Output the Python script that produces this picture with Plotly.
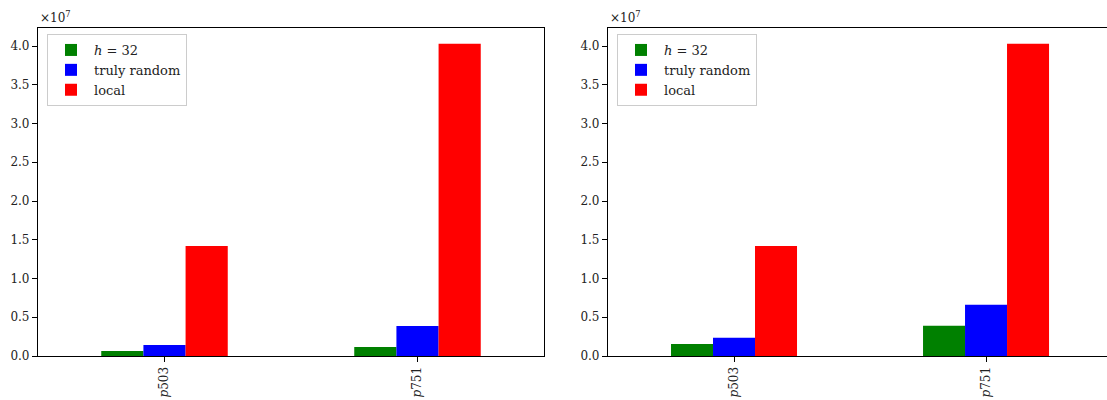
import plotly.graph_objects as go

categories = ["p503", "p751"]
tick_labels = ["<i>p</i>503", "<i>p</i>751"]
series_names = ["<i>h</i> = 32", "truly random", "local"]
colors = ["green", "blue", "red"]

left_h32 = [0.065e7, 0.116e7]
left_random = [0.142e7, 0.388e7]
left_local = [1.42e7, 4.03e7]

right_h32 = [0.155e7, 0.39e7]
right_random = [0.234e7, 0.66e7]
right_local = [1.42e7, 4.03e7]

ytick_vals = [0, 0.5e7, 1.0e7, 1.5e7, 2.0e7, 2.5e7, 3.0e7, 3.5e7, 4.0e7]
ytick_text = ["0.0", "0.5", "1.0", "1.5", "2.0", "2.5", "3.0", "3.5", "4.0"]

W, H = 1107, 400
FONT = "DejaVu Serif, Liberation Serif, serif"

fig = go.Figure()
left_series = [left_h32, left_random, left_local]
right_series = [right_h32, right_random, right_local]
for name, col, vals in zip(series_names, colors, left_series):
    fig.add_trace(go.Bar(x=categories, y=vals, name=name, marker_color=col,
                         marker_line_width=0, xaxis="x", yaxis="y", legend="legend"))
for name, col, vals in zip(series_names, colors, right_series):
    fig.add_trace(go.Bar(x=categories, y=vals, name=name, marker_color=col,
                         marker_line_width=0, xaxis="x2", yaxis="y2", legend="legend2"))

ymax = (356 - 28) / 77.5 * 1e7
tickfont = dict(family=FONT, size=12, color="#222")
common_x = dict(showline=True, linecolor="black", linewidth=1.2, mirror=True,
                ticks="outside", ticklen=5, tickcolor="black",
                tickvals=categories, ticktext=tick_labels, tickangle=-90,
                showgrid=False, zeroline=False, type="category",
                automargin=False, tickfont=tickfont)
common_y = dict(showline=True, linecolor="black", linewidth=1.2,
                ticks="outside", ticklen=5, tickcolor="black",
                tickvals=ytick_vals, ticktext=ytick_text,
                range=[0, ymax], showgrid=False, zeroline=False,
                automargin=False, tickfont=tickfont)

legend_style = dict(bgcolor="rgba(255,255,255,0.8)", bordercolor="#cccccc", borderwidth=1,
                    font=dict(family=FONT, size=13, color="#222"), tracegroupgap=0,
                    xanchor="left", yanchor="top", itemclick=False, itemwidth=36)

fig.update_layout(
    width=W, height=H,
    margin=dict(l=0, r=0, t=0, b=0, autoexpand=False),
    paper_bgcolor="white", plot_bgcolor="white",
    font=dict(family=FONT, size=12, color="#222"),
    barmode="group", bargap=0.5, bargroupgap=0,
    xaxis=dict(domain=[38 / W, 544 / W], anchor="y", range=[-0.5, 1.5], **common_x),
    yaxis=dict(domain=[(H - 356) / H, (H - 28) / H], anchor="x", mirror=True, **common_y),
    xaxis2=dict(domain=[608 / W, 1.0], anchor="y2", range=[-0.5, 1.48], **common_x),
    yaxis2=dict(domain=[(H - 356) / H, (H - 28) / H], anchor="x2", mirror=False, **common_y),
    legend=dict(x=47 / W, y=(H - 34) / H, **legend_style),
    legend2=dict(x=617 / W, y=(H - 34) / H, **legend_style),
    showlegend=True,
)

for x0 in [38 / W, 608 / W]:
    fig.add_annotation(x=x0, y=(H - 27) / H, xref="paper", yref="paper",
                       text="×10<sup>7</sup>", showarrow=False,
                       xanchor="left", yanchor="bottom",
                       font=dict(family=FONT, size=12, color="#222"))

fig.write_html("out.html", config={"displayModeBar": False},
               post_script="document.body.style.margin='0';document.body.style.overflow='hidden';")
